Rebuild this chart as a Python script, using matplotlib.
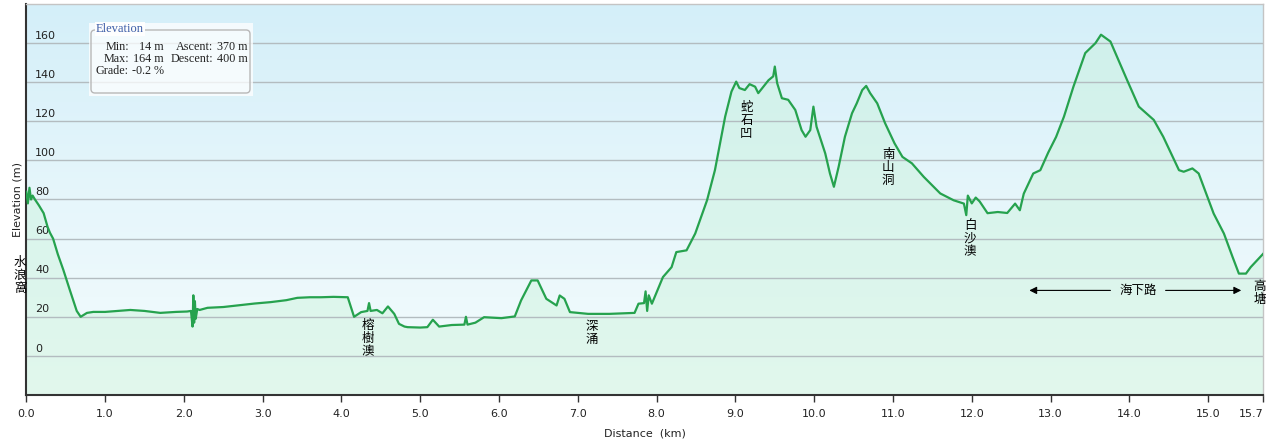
import numpy as np
import matplotlib
matplotlib.use("Agg")
import matplotlib.pyplot as plt
from matplotlib.colors import LinearSegmentedColormap
from matplotlib.patches import FancyBboxPatch, Rectangle
from matplotlib.transforms import IdentityTransform

plt.rcParams['font.family'] = ['DejaVu Sans', 'Noto Sans CJK TC']

# elevation profile (km, m)
dist_km = [
    0.00, 0.02, 0.04, 0.06, 0.08, 0.11, 0.16, 0.22, 0.27, 0.30, 0.34, 0.40, 0.47, 0.55, 0.64, 0.69, 0.73, 0.77, 0.85, 1.00,
    1.32, 1.50, 1.70, 1.90, 2.04, 2.09, 2.11, 2.12, 2.13, 2.14, 2.15, 2.17, 2.20, 2.30, 2.50, 2.68, 2.90, 3.10, 3.30, 3.44, 3.60, 3.74, 3.90, 4.08,
    4.12, 4.16, 4.25, 4.33, 4.35, 4.37, 4.45, 4.52, 4.59, 4.67, 4.73, 4.80, 4.84, 5.00, 5.09, 5.16, 5.24, 5.40, 5.56, 5.58, 5.60, 5.70, 5.81, 6.03,
    6.20, 6.28, 6.41, 6.49, 6.60, 6.73, 6.77, 6.83, 6.90, 7.13, 7.40, 7.72, 7.77, 7.84, 7.86, 7.88, 7.90, 7.94,
    8.08, 8.19, 8.25, 8.38, 8.49, 8.64, 8.74, 8.87, 8.95, 9.01, 9.05, 9.12, 9.18, 9.25, 9.29,
    9.42, 9.48, 9.50, 9.53, 9.59, 9.67, 9.76, 9.84, 9.89, 9.95, 9.99, 10.03, 10.14, 10.20, 10.25,
    10.31, 10.39, 10.48, 10.54, 10.61, 10.66, 10.71, 10.80, 10.90, 11.02, 11.12, 11.24, 11.39, 11.60, 11.77, 11.90, 11.93,
    11.95, 12.00, 12.05, 12.10, 12.20, 12.33, 12.45, 12.55, 12.61, 12.66, 12.78, 12.87, 12.97,
    13.07, 13.17, 13.29, 13.44, 13.57, 13.64, 13.76, 13.97, 14.12, 14.31, 14.43, 14.63, 14.69, 14.80, 14.88,
    15.07, 15.20, 15.31, 15.39, 15.48, 15.54, 15.70,
]
elev_m = [
    84, 78, 86, 80, 82, 80, 77, 73, 66, 63, 60, 52, 44, 34, 23, 20, 21, 22, 22.5, 22.5,
    23.5, 23, 22, 22.5, 22.7, 23, 15, 31, 17, 28, 19, 24, 23.5, 24.6, 25, 25.8, 26.8, 27.5, 28.5, 29.7, 30, 30, 30.2, 30,
    25, 20, 22.4, 23, 27, 23, 23.5, 21.8, 25.3, 21.5, 16.4, 15, 14.7, 14.5, 14.7, 18.5, 15, 15.8, 16, 20, 16, 17, 19.8, 19.3,
    20.2, 28.4, 38.6, 38.6, 29.2, 25.8, 30.9, 29.2, 22.4, 21.5, 21.5, 22, 26.7, 27, 33, 23, 31, 26.7,
    40.3, 45.4, 53.1, 54, 62.6, 79.6, 95, 122.4, 135.2, 140.3, 137, 136, 139, 137.7, 134.4,
    141, 143, 148, 139.5, 131.8, 131, 125.8, 115.5, 112.1, 115.5, 127.5, 117.2, 103.6, 93.3, 86.5,
    96.7, 112.1, 124.1, 129.2, 136, 138.1, 134.4, 129.2, 119, 108.7, 101.8, 98.5, 91.6, 83.1, 79.6, 77.9, 72,
    82, 78, 81, 79, 73, 73.6, 73.1, 77.9, 74.5, 83, 93.3, 95, 104,
    112, 122.4, 137.7, 154.9, 160, 164.3, 160.8, 141.2, 127.5, 120.7, 112.1, 95, 94.2, 95.9, 93.3,
    72.8, 62.6, 50.6, 42.1, 42.1, 45.4, 52.3,
]

x_ticks = [0, 1, 2, 3, 4, 5, 6, 7, 8, 9, 10, 11, 12, 13, 14, 15, 15.7]
y_grid = [0, 20, 40, 60, 80, 100, 120, 140, 160]

# place names (km, elevation of label centre)
places = ['水浪窩', '榕樹澳', '深涌', '蛇石凹', '南山洞', '白沙澳', '高塘']
place_x = [-0.08, 4.34, 7.18, 9.14, 10.94, 11.98, 15.65]
place_y = [41, 9, 11.5, 120.5, 96.5, 60, 32]

W, H = 1269, 441
fig = plt.figure(figsize=(W / 100, H / 100), dpi=100)
fig.patch.set_facecolor('white')
ax_l, ax_r, ax_t, ax_b = 26.3, 1263.3, 4, 395
ax = fig.add_axes([ax_l / W, 1 - ax_b / H, (ax_r - ax_l) / W, (ax_b - ax_t) / H])
ax.set_xlim(0, 15.7)
ax.set_ylim(-20, 180)

# background gradient
bg = LinearSegmentedColormap.from_list('bg', ['#f4fcfd', '#e6f6fb', '#d4eff9'])
grad = np.linspace(0, 1, 256).reshape(-1, 1)
ax.imshow(grad, cmap=bg, extent=[0, 15.7, -20, 180], origin='lower', aspect='auto', zorder=0)

ax.fill_between(dist_km, elev_m, -20, color='#c6f2d6', alpha=0.4, lw=0, zorder=1)
for y in y_grid:
    ax.axhline(y, color='#b3bcc0', lw=1.0, zorder=2)
    ax.text(0.11, y + 1.2, str(y), fontsize=8, color='#222222', ha='left', va='bottom', zorder=3)
ax.plot(dist_km, elev_m, color='#26a24e', lw=1.6, zorder=4)

ax.set_xticks(x_ticks)
ax.set_xticklabels([f'{v:.1f}' for v in x_ticks], fontsize=8, color='#222222')
ax.get_xticklabels()[-1].set_horizontalalignment('right')
ax.set_yticks([])
ax.tick_params(axis='x', length=5, width=1, color='#333333', pad=5)
ax.set_xlabel('Distance  (km)', fontsize=8, color='#222222', labelpad=7)
ax.set_ylabel('Elevation (m)', fontsize=8, color='#222222', labelpad=3)
for s in ['left', 'bottom']:
    ax.spines[s].set_color('#333333')
    ax.spines[s].set_linewidth(1.5)
for s in ['top', 'right']:
    ax.spines[s].set_color('#c4c4c4')
    ax.spines[s].set_linewidth(1)

for name, px, py in zip(places, place_x, place_y):
    ax.text(px, py, '\n'.join(name), fontsize=9, family=['Noto Sans CJK TC'],
            ha='center', va='center', linespacing=1.0, zorder=5, clip_on=False)

# 海下路 with arrows
ax.text(14.11, 33.5, '海下路', fontsize=9, family=['Noto Sans CJK TC'], ha='center', va='center', zorder=5)
arrow = dict(arrowstyle='-|>', color='black', lw=0.8, mutation_scale=11, shrinkA=0, shrinkB=0)
ax.annotate('', xy=(12.73, 33.5), xytext=(13.76, 33.5), arrowprops=arrow, zorder=5)
ax.annotate('', xy=(15.42, 33.5), xytext=(14.46, 33.5), arrowprops=arrow, zorder=5)

# stats box, drawn in pixel coordinates
ident = IdentityTransform()
fig.patches.append(Rectangle((89, H - 96), 164, 73, transform=ident, facecolor='white',
                             alpha=0.75, edgecolor='none', zorder=6))
fig.patches.append(FancyBboxPatch((91, H - 93), 159, 63, transform=ident,
                                  boxstyle='round,pad=0,rounding_size=4', facecolor='none',
                                  edgecolor='#b8b8b8', lw=1, zorder=7))
serif = ['Liberation Serif']
fs = 8.7
fig.text(96 / W, 1 - 29 / H, 'Elevation', fontsize=9, family=serif, color='#3d5ea8',
         ha='left', va='center', zorder=8,
         bbox=dict(facecolor='white', edgecolor='none', pad=0.5, alpha=0.95))
rows = [(46.5, 'Min:', '14 m', 'Ascent:', '370 m'),
        (58.5, 'Max:', '164 m', 'Descent:', '400 m')]
for py, a, b, c, d in rows:
    for txt, rx in [(a, 129), (b, 164), (c, 213)]:
        fig.text(rx / W, 1 - py / H, txt, fontsize=fs, family=serif, color='#222222',
                 ha='right', va='center', zorder=8)
    fig.text(217 / W, 1 - py / H, d, fontsize=fs, family=serif, color='#222222',
             ha='left', va='center', zorder=8)
fig.text(129 / W, 1 - 70.5 / H, 'Grade:', fontsize=fs, family=serif, color='#222222',
         ha='right', va='center', zorder=8)
fig.text(132 / W, 1 - 70.5 / H, '-0.2 %', fontsize=fs, family=serif, color='#222222',
         ha='left', va='center', zorder=8)

fig.savefig('out.png', dpi=100)
